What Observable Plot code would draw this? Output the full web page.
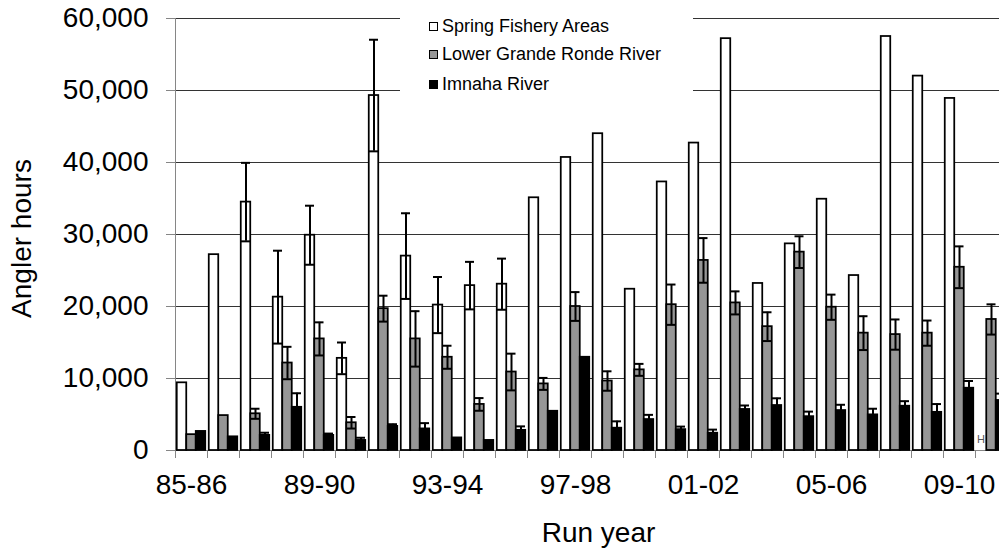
<!DOCTYPE html>
<html><head><meta charset="utf-8">
<script src="https://cdn.jsdelivr.net/npm/d3@7"></script>
<script src="https://cdn.jsdelivr.net/npm/@observablehq/plot@0.6"></script>
<style>
html,body{margin:0;padding:0;background:#fff;overflow:hidden;}
#wrap{position:relative;width:999px;height:550px;overflow:hidden;font-family:'Liberation Sans',Arial,sans-serif;}
#legend{position:absolute;left:400px;top:0;width:293px;height:100px;background:#fff;}
.row{position:absolute;left:29px;height:20px;display:flex;align-items:center;font-size:18px;white-space:nowrap;color:#000;}
.sw{width:7px;height:7px;border:1.6px solid #000;margin-right:4px;flex:none;}
</style></head>
<body>
<div id="wrap"><div id="chart"></div><div id="legend"></div></div>
<script>
const years = ["85-86","86-87","87-88","88-89","89-90","90-91","91-92","92-93","93-94","94-95","95-96","96-97","97-98","98-99","99-00","00-01","01-02","02-03","03-04","04-05","05-06","06-07","07-08","08-09","09-10","10-11"];
const labelYears = ["85-86","89-90","93-94","97-98","01-02","05-06","09-10"];
const yTicks = [0,10000,20000,30000,40000,50000,60000];
const seriesNames = ["Spring Fishery Areas","Lower Grande Ronde River","Imnaha River"];
const seriesFills = ["#ffffff","#969696","#000000"];

const spring = [9400,27200,34500,21300,29900,12800,49300,27000,20200,22900,23100,35100,40700,44000,22400,37300,42700,57200,23200,28700,34900,24300,57500,52000,48900,null];
const springErr = [0,0,5450,6450,4100,2200,7750,5950,3900,3300,3550,0,0,0,0,0,0,0,0,0,0,0,0,0,0,0];
const grande = [2200,4850,5100,12150,15500,3850,19700,15500,12950,6400,10900,9250,20000,9650,11200,20250,26400,20500,17200,27550,19900,16300,16100,16300,25450,18200];
const grandeErr = [0,0,700,2250,2300,800,1800,3850,1600,880,2550,830,2000,1350,830,2800,3100,1600,2000,2200,1750,2350,2100,1750,2900,2100];
const imnaha = [2650,1900,2100,6000,2100,1400,3350,3000,1750,1400,2800,5450,12950,3100,4300,2900,2400,5700,6250,4700,5550,4950,6150,5300,8650,6950];
const imnahaErr = [0,0,370,1950,250,370,300,800,0,0,550,0,0,950,650,420,500,550,1000,700,800,850,700,1150,1000,950];
const note = [{year:"10-11", v:1530, t:"H"}];

const values = [spring, grande, imnaha];
const errs = [springErr, grandeErr, imnahaErr];
const offsets = [-9.5, 0, 9.5];

const marks = [
  Plot.gridY(yTicks, {stroke:"#333", strokeOpacity:1, strokeWidth:1}),
  Plot.ruleY([0], {stroke:"#868686"}),
  Plot.ruleX([years[0]], {dx:-16, stroke:"#868686"}),
  Plot.ruleX(years, {dx:-16, insetTop:432, insetBottom:-8, stroke:"#868686"}),
  Plot.axisY(yTicks, {tickSize:9, tickPadding:18, fontSize:28, stroke:"#868686", fill:"#000", tickFormat:d3.format(","), label:null}),
  Plot.axisX(labelYears, {tickSize:0, tickPadding:24, fontSize:28, fill:"#000", label:null})
];

values.forEach((vals, s) => {
  const rows = years.map((year,i)=>({year, v: vals[i], e: errs[s][i]}));
  const withErr = rows.filter(d => d.v != null && d.e > 0);
  marks.push(Plot.barY(rows.filter(d=>d.v!=null), {x:"year", y:"v", fill:seriesFills[s], stroke:"#000", strokeWidth:1.75, insetLeft:11.25, insetRight:11.25, dx:offsets[s]}));
  marks.push(Plot.ruleX(withErr, {x:"year", y1:d=>d.v-d.e, y2:d=>d.v+d.e, dx:offsets[s], stroke:"#000", strokeWidth:2}));
  marks.push(Plot.tickY(withErr, {x:"year", y:d=>d.v+d.e, dx:offsets[s], insetLeft:11.5, insetRight:11.5, stroke:"#000", strokeWidth:2}));
  marks.push(Plot.tickY(withErr, {x:"year", y:d=>d.v-d.e, dx:offsets[s], insetLeft:11.5, insetRight:11.5, stroke:"#000", strokeWidth:2}));
});

marks.push(Plot.text(note, {x:"year", y:"v", text:"t", dx:-10.5, fill:"#555", fontSize:11}));
marks.push(Plot.text(["Angler hours"], {frameAnchor:"left", textAnchor:"middle", lineAnchor:"middle", rotate:-90, dx:-153, dy:4, fontSize:28, fill:"#000"}));
marks.push(Plot.text(["Run year"], {frameAnchor:"bottom", textAnchor:"middle", lineAnchor:"middle", dy:83, dx:11, fontSize:28, fill:"#000"}));

const chart = Plot.plot({
  width:999, height:550,
  marginLeft:175, marginRight:0, marginTop:18, marginBottom:100,
  x:{type:"band", domain:years, range:[175,1007], padding:0, label:null},
  y:{domain:[0,60000], range:[450,18], label:null},
  style:{fontFamily:"'Liberation Sans', Arial, sans-serif", background:"#fff", overflow:"hidden"},
  marks
});
document.getElementById("chart").appendChild(chart);

const legend = document.getElementById("legend");
const rowCenters = [26, 54.7, 84];
seriesNames.forEach((name, s) => {
  const r = document.createElement("div");
  r.className = "row";
  r.style.top = (rowCenters[s] - 10) + "px";
  const sw = document.createElement("span");
  sw.className = "sw";
  sw.style.background = seriesFills[s];
  r.appendChild(sw);
  r.appendChild(document.createTextNode(name));
  legend.appendChild(r);
});
</script>
</body></html>
